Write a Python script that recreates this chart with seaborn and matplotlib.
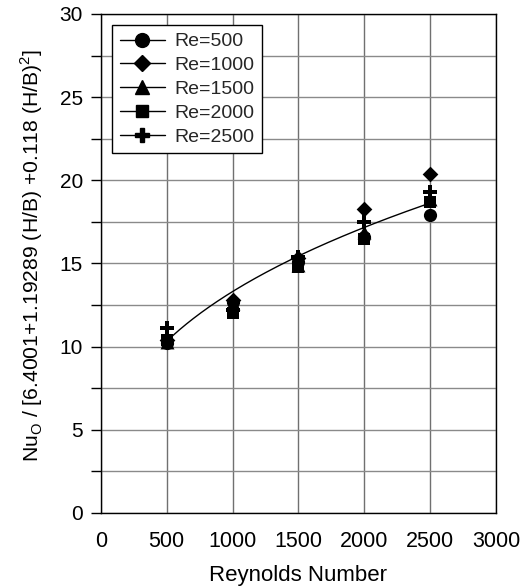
import numpy as np
import pandas as pd
import matplotlib
matplotlib.use("Agg")
import matplotlib.pyplot as plt
from matplotlib.lines import Line2D
from matplotlib.ticker import MultipleLocator
import seaborn as sns

# ---- data ----
reynolds = [500, 1000, 1500, 2000, 2500]
series_labels = ["Re=500", "Re=1000", "Re=1500", "Re=2000", "Re=2500"]
re500 = [10.2, 12.7, 15.1, 16.6, 17.9]
re1000 = [10.4, 12.8, 15.3, 18.3, 20.4]
re1500 = [10.3, 12.6, 14.9, 16.9, 18.9]
re2000 = [10.4, 12.0, 14.8, 16.5, 18.7]
re2500 = [11.1, 12.2, 15.4, 17.5, 19.3]
# correlation curve y = fit_a * Re ** fit_b, drawn from Re=500 to 2500
fit_a = 1.055
fit_b = 0.367
fit_range = [500, 2500]

series_values = [re500, re1000, re1500, re2000, re2500]
markers = ["o", "D", "^", "s", "P"]
msizes = [9.5, 8, 10, 8.5, 9.5]

rows = []
for lab, vals in zip(series_labels, series_values):
    for r, v in zip(reynolds, vals):
        rows.append({"Re": r, "val": v, "series": lab})
df = pd.DataFrame(rows)

sns.set_theme(style="white")
plt.rcParams["font.family"] = ["Liberation Sans", "DejaVu Sans"]
plt.rcParams["mathtext.fontset"] = "custom"
plt.rcParams["mathtext.rm"] = "Liberation Sans"

fig = plt.figure(figsize=(5.31, 5.88), dpi=100)
ax = fig.add_axes([0.190, 0.1276, 0.744, 0.8486])

# fit curve
xc = np.linspace(fit_range[0], fit_range[1], 200)
curve = pd.DataFrame({"Re": xc, "val": fit_a * xc ** fit_b})
sns.lineplot(data=curve, x="Re", y="val", ax=ax, color="black", lw=1.0, zorder=3)

for lab, m, ms in zip(series_labels, markers, msizes):
    sub = df[df["series"] == lab]
    sns.scatterplot(data=sub, x="Re", y="val", ax=ax, marker=m, s=ms ** 2,
                    color="black", edgecolor="black", linewidth=0, zorder=4)

ax.set_xlim(0, 3000)
ax.set_ylim(0, 30)
ax.xaxis.set_major_locator(MultipleLocator(500))
ax.yaxis.set_major_locator(MultipleLocator(5))
ax.yaxis.set_minor_locator(MultipleLocator(2.5))
ax.grid(True, which="major", axis="x", color="#707070", lw=1.0)
ax.grid(True, which="both", axis="y", color="#8a8a8a", lw=1.0)
ax.set_axisbelow(True)
for s in ax.spines.values():
    s.set_color("black")
    s.set_linewidth(1.0)
ax.tick_params(axis="both", which="both", direction="out", length=7, width=1,
               colors="black", labelsize=15.5, left=True, bottom=False)
ax.tick_params(axis="y", which="both", pad=6, labelsize=15)
ax.tick_params(axis="x", pad=6)

ax.set_xlabel("Reynolds Number", fontsize=16, color="black", labelpad=9)
ax.set_ylabel(r"Nu$_\mathrm{O}$ / [6.4001+1.19289 (H/B) +0.118 (H/B)$^2$]",
              fontsize=15.2, color="black")
ax.yaxis.set_label_coords(-0.141, 0.515)

handles = [Line2D([0], [0], color="black", lw=1.0, marker=m, markersize=ms * 1.05,
                  markerfacecolor="black", markeredgecolor="black")
           for m, ms in zip(markers, msizes)]
leg = ax.legend(handles, series_labels, loc="upper left", bbox_to_anchor=(0.029, 0.978),
                fontsize=14, frameon=True, fancybox=False, edgecolor="black",
                framealpha=1, handlelength=2.3, labelspacing=0.32, borderpad=0.4,
                handletextpad=0.5, borderaxespad=0)
leg.get_frame().set_linewidth(1.0)

fig.savefig("out.png", dpi=100)
